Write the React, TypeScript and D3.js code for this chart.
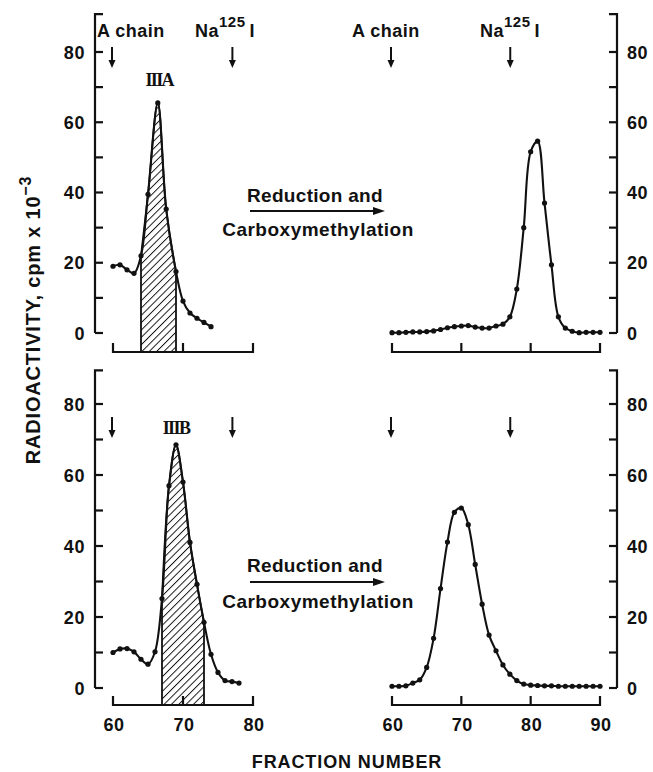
import React from "react";
import * as d3 from "d3";

// ---- data ----
const topLeftFrac = [60, 61, 62, 63, 64, 65, 66.4, 67.6, 69, 70, 71, 72, 73, 74];
const topLeftCpm = [19, 19.4, 18, 17, 22, 39.5, 65.5, 35.3, 17.5, 9.1, 5.7, 4.2, 3, 1.8];
const topRightFrac = d3.range(60, 91);
const topRightCpm = [0.1, 0.1, 0.2, 0.3, 0.3, 0.4, 0.6, 1.0, 1.5, 1.8, 2.0, 2.1, 1.7, 1.4, 1.4, 2.0, 2.5, 4.6, 12.5, 30, 51.6, 54.6, 37, 19.4, 4.6, 1.4, 0.5, 0.1, 0.2, 0.2, 0.2];
const bottomLeftFrac = d3.range(60, 79);
const bottomLeftCpm = [10, 11, 11.1, 10.2, 8.1, 6.7, 10.2, 25.2, 57, 68.5, 58, 41, 29.2, 18.5, 9.5, 4.4, 2.1, 1.8, 1.4];
const bottomRightFrac = d3.range(60, 91);
const bottomRightCpm = [0.5, 0.5, 0.6, 1.4, 2.3, 5.8, 14, 28, 41.1, 49.5, 50.7, 46, 34.8, 23.6, 14.9, 10.5, 6.5, 3.9, 2.1, 1.1, 0.8, 0.7, 0.6, 0.6, 0.5, 0.5, 0.5, 0.5, 0.5, 0.5, 0.5];
const hatchTop = [64, 69];
const hatchBottom = [67, 73];
const peakTopLabel = "IIIA";
const peakBottomLabel = "IIIB";
const markerFracs = [60, 77.2];
const leftXTicks = [60, 70, 80];
const rightXTicks = [60, 70, 80, 90];
const yTicks = d3.range(0, 81, 10);
const yLabels = [0, 20, 40, 60, 80];

const FONT = "'Liberation Sans', Arial, Helvetica, sans-serif";
const INK = "#111";

type Panel = {
  y0: number; y80: number; top: number; axisY: number; arrowY1: number; arrowY2: number;
  showLabels: boolean; lf: number[]; lc: number[]; rf: number[]; rc: number[];
  hatch: number[]; peakLabel: string; peakX: number; peakY: number;
  txt1: number; line: number; txt2: number;
};

const xL = d3.scaleLinear().domain([60, 80]).range([113, 253]);
const xR = d3.scaleLinear().domain([60, 90]).range([392, 600]);
const LEFT_AXIS = 95;
const RIGHT_AXIS = 617;

function Arrow({ x, y1, y2 }: { x: number; y1: number; y2: number }) {
  return (
    <g>
      <line x1={x} x2={x} y1={y1} y2={y2 - 6} stroke={INK} strokeWidth={2} />
      <path d={`M${x - 3.5},${y2 - 8} L${x + 3.5},${y2 - 8} L${x},${y2} Z`} fill={INK} />
    </g>
  );
}

function PanelView({ p }: { p: Panel }) {
  const y = d3.scaleLinear().domain([0, 80]).range([p.y0, p.y80]);
  const yTop = y(p.top);
  const curve = d3.line<[number, number]>().x((d) => d[0]).y((d) => d[1]).curve(d3.curveCatmullRom.alpha(0.5));
  const lpts: [number, number][] = p.lf.map((f, i) => [xL(f), y(p.lc[i])]);
  const rpts: [number, number][] = p.rf.map((f, i) => [xR(f), y(p.rc[i])]);
  const hp: [number, number][] = p.lf
    .map((f, i) => [f, p.lc[i]] as [number, number])
    .filter((d) => d[0] >= p.hatch[0] && d[0] <= p.hatch[1])
    .map((d) => [xL(d[0]), y(d[1])] as [number, number]);
  const hatchD =
    `M${xL(p.hatch[0])},${p.axisY} L${hp[0][0]},${hp[0][1]} ` +
    (curve(hp) || "").replace(/^M[^CL]*/, "") +
    ` L${xL(p.hatch[1])},${p.axisY} Z`;
  return (
    <g>
      <path d={hatchD} fill="url(#hatch)" stroke={INK} strokeWidth={1.8} />
      <path d={`M${LEFT_AXIS + 8},${yTop} H${LEFT_AXIS} V${y(0)}`} fill="none" stroke={INK} strokeWidth={2.2} />
      {yTicks.map((t) => (
        <line key={"lt" + t} x1={LEFT_AXIS} x2={LEFT_AXIS + 8} y1={y(t)} y2={y(t)} stroke={INK} strokeWidth={2.2} />
      ))}
      {yLabels.map((t) => (
        <text key={"ll" + t} x={85} y={y(t) + 6.5} textAnchor="end" fontFamily={FONT} fontWeight="bold" fontSize={18} letterSpacing={0.6} fill={INK}>
          {t}
        </text>
      ))}
      <path d={`M${RIGHT_AXIS - 8},${yTop} H${RIGHT_AXIS} V${y(0)}`} fill="none" stroke={INK} strokeWidth={2.2} />
      {yTicks.map((t) => (
        <line key={"rt" + t} x1={RIGHT_AXIS - 8} x2={RIGHT_AXIS} y1={y(t)} y2={y(t)} stroke={INK} strokeWidth={2.2} />
      ))}
      {yLabels.map((t) => (
        <text key={"rl" + t} x={627} y={y(t) + 6.5} textAnchor="start" fontFamily={FONT} fontWeight="bold" fontSize={18} letterSpacing={0.6} fill={INK}>
          {t}
        </text>
      ))}
      <line x1={xL(60)} x2={xL(80)} y1={p.axisY} y2={p.axisY} stroke={INK} strokeWidth={2.2} />
      {leftXTicks.map((t) => (
        <line key={"lx" + t} x1={xL(t)} x2={xL(t)} y1={p.axisY + 1} y2={p.axisY - 9} stroke={INK} strokeWidth={2.2} />
      ))}
      <line x1={xR(60)} x2={xR(90)} y1={p.axisY} y2={p.axisY} stroke={INK} strokeWidth={2.2} />
      {rightXTicks.map((t) => (
        <line key={"rx" + t} x1={xR(t)} x2={xR(t)} y1={p.axisY + 1} y2={p.axisY - 9} stroke={INK} strokeWidth={2.2} />
      ))}
      {p.showLabels &&
        leftXTicks.map((t) => (
          <text key={"lxl" + t} x={xL(t) + 1} y={p.axisY + 26} textAnchor="middle" fontFamily={FONT} fontWeight="bold" fontSize={18} letterSpacing={0.6} fill={INK}>
            {t}
          </text>
        ))}
      {p.showLabels &&
        rightXTicks.map((t) => (
          <text key={"rxl" + t} x={xR(t) + 1} y={p.axisY + 26} textAnchor="middle" fontFamily={FONT} fontWeight="bold" fontSize={18} letterSpacing={0.6} fill={INK}>
            {t}
          </text>
        ))}
      <path d={curve(lpts) || ""} fill="none" stroke={INK} strokeWidth={2.1} strokeLinejoin="round" />
      {lpts.map((d, i) => (
        <circle key={"lp" + i} cx={d[0]} cy={d[1]} r={2.6} fill={INK} />
      ))}
      <path d={curve(rpts) || ""} fill="none" stroke={INK} strokeWidth={2.1} strokeLinejoin="round" />
      {rpts.map((d, i) => (
        <circle key={"rp" + i} cx={d[0]} cy={d[1]} r={2.6} fill={INK} />
      ))}
      {markerFracs.map((f) => (
        <Arrow key={"al" + f} x={xL(f) - 1} y1={p.arrowY1} y2={p.arrowY2} />
      ))}
      {markerFracs.map((f) => (
        <Arrow key={"ar" + f} x={xR(f) - 1} y1={p.arrowY1} y2={p.arrowY2} />
      ))}
      <text x={xL(p.peakX)} y={p.peakY} textAnchor="middle" fontFamily="'Liberation Serif', 'DejaVu Serif', serif" fontWeight="bold" fontSize={18} letterSpacing={-1.6} fill={INK}>
        {p.peakLabel}
      </text>
      <text x={315} y={p.txt1} textAnchor="middle" fontFamily={FONT} fontWeight="bold" fontSize={19} letterSpacing={0.3} fill={INK}>
        Reduction and
      </text>
      <line x1={250} x2={376} y1={p.line} y2={p.line} stroke={INK} strokeWidth={2} />
      <path d={`M373,${p.line - 4} L385,${p.line} L373,${p.line + 4} Z`} fill={INK} />
      <text x={318} y={p.txt2} textAnchor="middle" fontFamily={FONT} fontWeight="bold" fontSize={19} letterSpacing={0.5} fill={INK}>
        Carboxymethylation
      </text>
    </g>
  );
}

export default function App() {
  const top: Panel = {
    y0: 333, y80: 52, top: 90.8, axisY: 352, arrowY1: 47, arrowY2: 68, showLabels: false,
    lf: topLeftFrac, lc: topLeftCpm, rf: topRightFrac, rc: topRightCpm, hatch: hatchTop,
    peakLabel: peakTopLabel, peakX: 66.6, peakY: 86, txt1: 202, line: 211, txt2: 236,
  };
  const bottom: Panel = {
    y0: 688, y80: 404, top: 89.5, axisY: 705, arrowY1: 417, arrowY2: 438, showLabels: true,
    lf: bottomLeftFrac, lc: bottomLeftCpm, rf: bottomRightFrac, rc: bottomRightCpm, hatch: hatchBottom,
    peakLabel: peakBottomLabel, peakX: 69, peakY: 434, txt1: 572, line: 582, txt2: 608,
  };
  return (
    <svg width={653} height={772} viewBox="0 0 653 772" style={{ position: "absolute", left: 0, top: 0, background: "#fff" }}>
      <defs>
        <pattern id="hatch" width={5.2} height={5.2} patternUnits="userSpaceOnUse" patternTransform="rotate(45)">
          <rect width={5.2} height={5.2} fill="#fff" />
          <line x1={0} y1={0} x2={0} y2={5.2} stroke={INK} strokeWidth={1.9} />
        </pattern>
      </defs>
      <rect width={653} height={772} fill="#fff" />
      <PanelView p={top} />
      <PanelView p={bottom} />
      <text x={97} y={37} fontFamily={FONT} fontWeight="bold" fontSize={18} letterSpacing={0.5} fill={INK}>A chain</text>
      <text x={195} y={37} fontFamily={FONT} fontWeight="bold" fontSize={18} letterSpacing={0.5} fill={INK}>
        Na<tspan dy={-10} fontSize={15}>125</tspan><tspan dy={10} dx={4}>I</tspan>
      </text>
      <text x={352} y={37} fontFamily={FONT} fontWeight="bold" fontSize={18} letterSpacing={0.5} fill={INK}>A chain</text>
      <text x={480} y={37} fontFamily={FONT} fontWeight="bold" fontSize={18} letterSpacing={0.5} fill={INK}>
        Na<tspan dy={-10} fontSize={15}>125</tspan><tspan dy={10} dx={4}>I</tspan>
      </text>
      <text transform="translate(40,320) rotate(-90)" textAnchor="middle" fontFamily={FONT} fontWeight="bold" fontSize={20} letterSpacing={0.8} fill={INK}>
        RADIOACTIVITY, cpm x 10<tspan dy={-9} fontSize={16}>−3</tspan>
      </text>
      <text x={347} y={768} textAnchor="middle" fontFamily={FONT} fontWeight="bold" fontSize={18} letterSpacing={0.9} fill={INK}>
        FRACTION NUMBER
      </text>
    </svg>
  );
}
